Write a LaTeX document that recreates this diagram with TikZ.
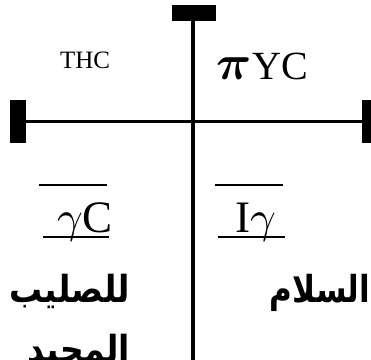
\documentclass[tikz,border=0pt]{standalone}
\usepackage{fontspec}
\setmainfont{Liberation Serif}
\newfontfamily\arabicfont[Script=Arabic]{DejaVu Sans}
\TeXXeTstate=1
\newcommand\grk[2]{\scalebox{#1}{\fontsize{10}{12}\selectfont$#2$}}
\newcommand\grkb[2]{\scalebox{#1}{\fontsize{10}{12}\selectfont\boldmath$#2$}}
\begin{document}
\begin{tikzpicture}[x=1pt,y=-1pt,
  bar/.style={fill=black,inner sep=0pt,outer sep=0pt,draw=none,rectangle},
  axis/.style={line width=3.8pt},
  rule/.style={line width=1.1pt},
  lbl/.style={inner sep=0pt,outer sep=0pt},
  ar/.style={lbl,anchor=base east,font=\arabicfont\bfseries\fontsize{#1}{36}\selectfont}]
\useasboundingbox (0,0) rectangle (371,359);
\clip (0,0) rectangle (371,359);
% bars
\node[bar,minimum width=44pt,minimum height=15.5pt] (topbar) at (194,12.8) {};
\node[bar,minimum width=16pt,minimum height=43pt] (leftbar) at (18,121.5) {};
\node[bar,minimum width=16pt,minimum height=43pt] (rightbar) at (370,121.5) {};
\coordinate (bottom) at (193.3,370);
\draw[axis] (topbar.south -| bottom) -- (bottom);
\draw[axis] (leftbar.east) -- (rightbar.west);
% top labels
\node[lbl,anchor=base west,font=\fontsize{25}{30}\selectfont] (thc) at (60,68) {THC};
\node[lbl,anchor=base west,font=\fontsize{40}{48}\selectfont] (pyc) at (216,79) {\grkb{4.9}{\pi}\hspace{1pt}YC};
% lower labels with rules
\node[lbl,anchor=base east,font=\fontsize{45}{54}\selectfont] (gc) at (113,232) {\grk{4.5}{\gamma}C};
\draw[rule] (39,185) -- (107,185);
\draw[rule] (43,237) -- (109,237);
\node[lbl,anchor=base east,font=\fontsize{45}{54}\selectfont] (ig) at (276,232) {I\grk{4.5}{\gamma}};
\draw[rule] (215,185) -- (283,185);
\draw[rule] (218,237) -- (285,237);
% Arabic
\node[ar=33,yscale=1.13] (salib) at (130,302) {\beginR للصليب\endR};
\node[ar=33,yscale=1.13] (majid) at (130,362) {\beginR المجيد\endR};
\node[ar=31,yscale=1.2] (salam) at (370,302) {\beginR السلام\endR};
\end{tikzpicture}
\end{document}
